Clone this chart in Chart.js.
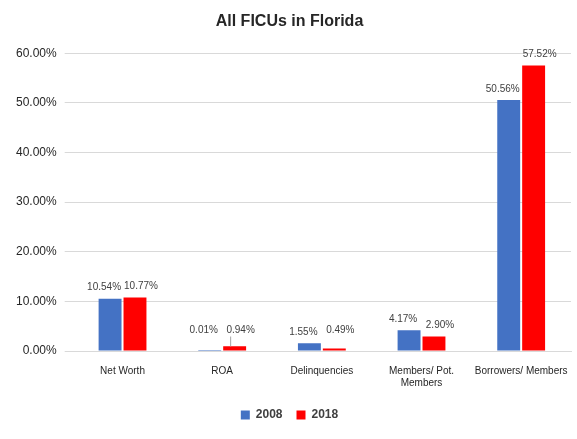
<!DOCTYPE html>
<html><head><meta charset="utf-8">
<script src="https://cdn.jsdelivr.net/npm/chart.js@4"></script>
<style>html,body{margin:0;padding:0;background:#fff}#w{width:577px;height:439px}</style>
</head><body><div id="w"><canvas id="c"></canvas></div>
<script>
const categories = ["Net Worth","ROA","Delinquencies",["Members/ Pot.","Members"],"Borrowers/ Members"];
const values2008 = [10.54,0.01,1.55,4.17,50.56];
const values2018 = [10.77,0.94,0.49,2.90,57.52];
const seriesNames = ["2008","2018"];
const labelPlugin = {
  id:'lbl',
  afterDatasetsDraw(chart){
    const ctx=chart.ctx;
    ctx.save();
    ctx.font='10px "Liberation Sans", Arial, sans-serif';
    ctx.fillStyle='#404040';ctx.textAlign='center';ctx.textBaseline='bottom';
    chart.data.datasets.forEach((ds,i)=>{
      chart.getDatasetMeta(i).data.forEach((bar,j)=>{
        const v=ds.data[j];
        let y=bar.y-6;
        if(v<1.2){y=Math.min(y,bar.base-15);
          if(v>0.5){ctx.strokeStyle='#a6a6a6';ctx.beginPath();ctx.moveTo(bar.x-4,y+1);ctx.lineTo(bar.x-4,bar.y);ctx.stroke();}
        }
        ctx.fillText(v.toFixed(2)+'%',bar.x+(i==0?-6:6),y);
      });
    });
    ctx.restore();
  }
};
new Chart(document.getElementById('c'),{
  type:'bar',
  data:{labels:categories,datasets:[
    {label:seriesNames[0],data:values2008,backgroundColor:'#4472C4',barPercentage:0.92,categoryPercentage:0.5},
    {label:seriesNames[1],data:values2018,backgroundColor:'#FF0000',barPercentage:0.92,categoryPercentage:0.5}]},
  options:{responsive:true,maintainAspectRatio:false,animation:false,
    layout:{padding:{left:8,right:6,top:4,bottom:8}},
    plugins:{
      title:{display:true,text:'All FICUs in Florida',color:'#262626',font:{size:16,weight:'bold',family:'"Liberation Sans", Arial, sans-serif'},padding:{top:8,bottom:22}},
      legend:{position:'bottom',labels:{boxWidth:9,boxHeight:9,padding:14,color:'#404040',font:{size:12,weight:'bold',family:'"Liberation Sans", Arial, sans-serif'}}},
      tooltip:{enabled:false}},
    scales:{
      x:{grid:{display:false},border:{color:'#d9d9d9'},ticks:{autoSkip:false,color:'#262626',padding:6,font:{size:10,family:'"Liberation Sans", Arial, sans-serif'},maxRotation:0}},
      y:{min:0,max:60,grid:{color:'#d9d9d9'},border:{display:false},ticks:{stepSize:10,color:'#262626',padding:8,font:{size:12,family:'"Liberation Sans", Arial, sans-serif'},callback:v=>v.toFixed(2)+'%'}}}
  },
  plugins:[labelPlugin]
});
</script></body></html>
